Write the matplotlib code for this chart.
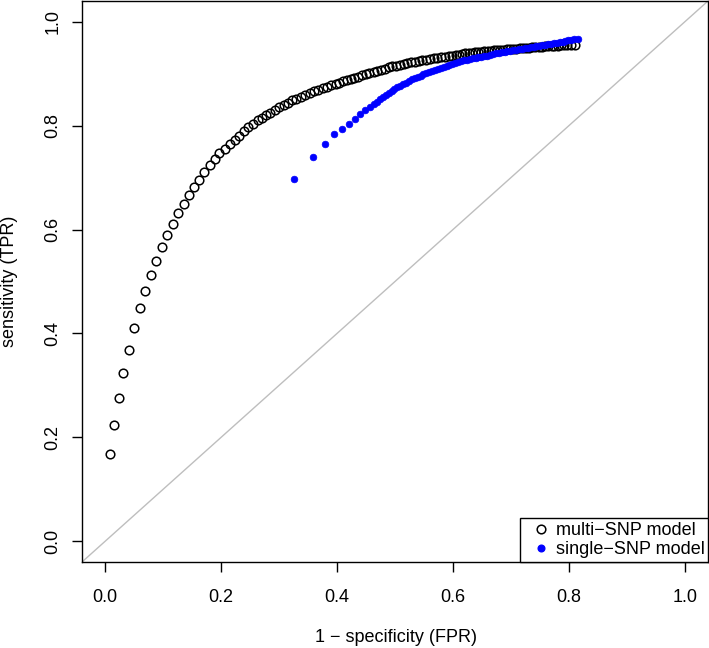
import matplotlib
matplotlib.use("Agg")
import matplotlib.pyplot as plt
from matplotlib.lines import Line2D

# ---- data ----
multi_fpr = [0.0086, 0.0155, 0.0231, 0.031, 0.0403, 0.0495, 0.0593, 0.069, 0.0783, 0.0879,
             0.0972, 0.1069, 0.1167, 0.1259, 0.1357, 0.1443, 0.1534, 0.1616, 0.1707, 0.180,
             0.1886, 0.1972, 0.2059, 0.2145, 0.2231, 0.231, 0.2391, 0.2472,
             0.255, 0.263, 0.270, 0.278, 0.285, 0.293, 0.300, 0.308, 0.315, 0.323,
             0.330, 0.338, 0.345, 0.353, 0.360, 0.368, 0.375, 0.383, 0.390, 0.398,
             0.404, 0.411, 0.417, 0.424, 0.430, 0.437, 0.443, 0.450, 0.456, 0.463,
             0.469, 0.476, 0.482, 0.489, 0.495, 0.502, 0.508, 0.515, 0.521, 0.528,
             0.534, 0.541, 0.547, 0.554, 0.560, 0.567, 0.573, 0.580, 0.586, 0.593, 0.599,
             0.605, 0.610, 0.616, 0.621, 0.627, 0.632, 0.638, 0.643, 0.649, 0.654,
             0.660, 0.665, 0.671, 0.676, 0.682, 0.687, 0.693, 0.698, 0.704, 0.709,
             0.715, 0.720, 0.726, 0.731, 0.737, 0.742, 0.748, 0.753, 0.759, 0.764,
             0.770, 0.775, 0.781, 0.786, 0.792, 0.797, 0.803, 0.810]
multi_tpr = [0.168, 0.2246, 0.2764, 0.3234, 0.368, 0.4107, 0.449, 0.4812, 0.513, 0.539,
             0.566, 0.590, 0.610, 0.6315, 0.650, 0.6674, 0.682, 0.696, 0.710, 0.724,
             0.7357, 0.7466, 0.7557, 0.7653, 0.772, 0.7806, 0.789, 0.798,
             0.804, 0.810, 0.815, 0.821, 0.825, 0.830, 0.835, 0.840, 0.844, 0.849,
             0.852, 0.856, 0.859, 0.862, 0.866, 0.869, 0.872, 0.875, 0.878, 0.881,
             0.883, 0.886, 0.888, 0.890, 0.892, 0.894, 0.897, 0.899, 0.902, 0.904,
             0.906, 0.908, 0.910, 0.912, 0.914, 0.915, 0.917, 0.919, 0.920, 0.922,
             0.923, 0.924, 0.926, 0.927, 0.928, 0.930, 0.931, 0.932, 0.933, 0.934, 0.935,
             0.936, 0.937, 0.938, 0.939, 0.940, 0.940, 0.941, 0.942, 0.942, 0.943,
             0.944, 0.944, 0.945, 0.945, 0.946, 0.946, 0.947, 0.947, 0.948, 0.948,
             0.949, 0.949, 0.950, 0.950, 0.951, 0.951, 0.952, 0.952, 0.953, 0.953,
             0.953, 0.954, 0.954, 0.955, 0.955, 0.955, 0.956, 0.956]

single_fpr = [0.325, 0.358, 0.379, 0.3955, 0.4086, 0.420, 0.4305, 0.440, 0.449, 0.457, 0.464,
              0.469, 0.474, 0.479, 0.484, 0.489, 0.494, 0.499, 0.504, 0.509, 0.514,
              0.519, 0.524, 0.529, 0.534, 0.539, 0.544, 0.549, 0.554, 0.559, 0.564,
              0.569, 0.574, 0.579, 0.584, 0.589, 0.594, 0.599, 0.604, 0.609, 0.614,
              0.619, 0.624, 0.629, 0.634, 0.639, 0.644, 0.649, 0.654, 0.659, 0.664,
              0.669, 0.674, 0.679, 0.684, 0.689, 0.694, 0.699, 0.704, 0.709, 0.714,
              0.719, 0.724, 0.729, 0.734, 0.739, 0.744, 0.749, 0.754, 0.759, 0.764,
              0.769, 0.774, 0.779, 0.784, 0.789, 0.794, 0.799, 0.804, 0.809, 0.8155]
single_tpr = [0.698, 0.739, 0.765, 0.783, 0.793, 0.804, 0.813, 0.822, 0.830, 0.836, 0.842,
              0.846, 0.851, 0.855, 0.859, 0.863, 0.867, 0.870, 0.874, 0.877, 0.880,
              0.883, 0.886, 0.889, 0.891, 0.894, 0.896, 0.899, 0.901, 0.903, 0.905,
              0.907, 0.909, 0.911, 0.913, 0.915, 0.917, 0.919, 0.921, 0.923, 0.924,
              0.926, 0.927, 0.929, 0.930, 0.931, 0.932, 0.933, 0.934, 0.935, 0.937,
              0.938, 0.939, 0.940, 0.941, 0.942, 0.943, 0.944, 0.945, 0.946, 0.947,
              0.948, 0.949, 0.950, 0.951, 0.952, 0.953, 0.954, 0.955, 0.956, 0.957,
              0.958, 0.959, 0.960, 0.961, 0.962, 0.963, 0.964, 0.965, 0.966, 0.967]

ticks = [0.0, 0.2, 0.4, 0.6, 0.8, 1.0]
tick_labels = ["0.0", "0.2", "0.4", "0.6", "0.8", "1.0"]
series_labels = ["multi\u2212SNP model", "single\u2212SNP model"]
xlabel = "1 \u2212 specificity (FPR)"
ylabel = "sensitivity (TPR)"

plt.rcParams['font.family'] = ['Liberation Sans', 'DejaVu Sans']
FS = 13

W, H = 709, 648
fig = plt.figure(figsize=(W / 100, H / 100), dpi=100)
ax = fig.add_axes([82 / W, (H - 562) / H, (708 - 82) / W, (562 - 1) / H])

ax.set_xlim(-0.04, 1.04)
ax.set_ylim(-0.04, 1.04)

ax.axline((0, 0), slope=1, color="#bebebe", lw=1.0, zorder=1)

ax.plot(multi_fpr, multi_tpr, linestyle="none", marker="o", markersize=6.2,
        markerfacecolor="none", markeredgecolor="black", markeredgewidth=1.1, zorder=2)
ax.plot(single_fpr, single_tpr, linestyle="none", marker="o", markersize=4.8,
        markerfacecolor="blue", markeredgecolor="blue", markeredgewidth=0.5, zorder=3)

ax.set_xticks(ticks)
ax.set_xticklabels(tick_labels)
ax.set_yticks(ticks)
ax.set_yticklabels(tick_labels, rotation=90, va="center")
ax.tick_params(axis="both", direction="out", length=7.2, width=1.0, labelsize=FS)
ax.tick_params(axis="x", pad=12.5)
ax.tick_params(axis="y", pad=7.5)
for s in ax.spines.values():
    s.set_linewidth(1.0)

handles = [Line2D([], [], linestyle="none", marker="o", markersize=6.2, markerfacecolor="none",
                  markeredgecolor="black", markeredgewidth=1.1),
           Line2D([], [], linestyle="none", marker="o", markersize=4.8, markerfacecolor="blue",
                  markeredgecolor="blue")]
leg = ax.legend(handles, series_labels, loc="lower right", borderaxespad=0, fontsize=FS,
                frameon=True, fancybox=False, framealpha=1, edgecolor="black",
                handlelength=1.82, handletextpad=-0.08, borderpad=0.2, labelspacing=0.13)
leg.get_frame().set_linewidth(1.0)

fig.text(396 / W, (H - 638) / H, xlabel, ha="center", va="center", fontsize=FS)
fig.text(9.5 / W, (H - 281) / H, ylabel, ha="center", va="center", rotation=90, fontsize=FS)

fig.savefig("out.png", dpi=100)
